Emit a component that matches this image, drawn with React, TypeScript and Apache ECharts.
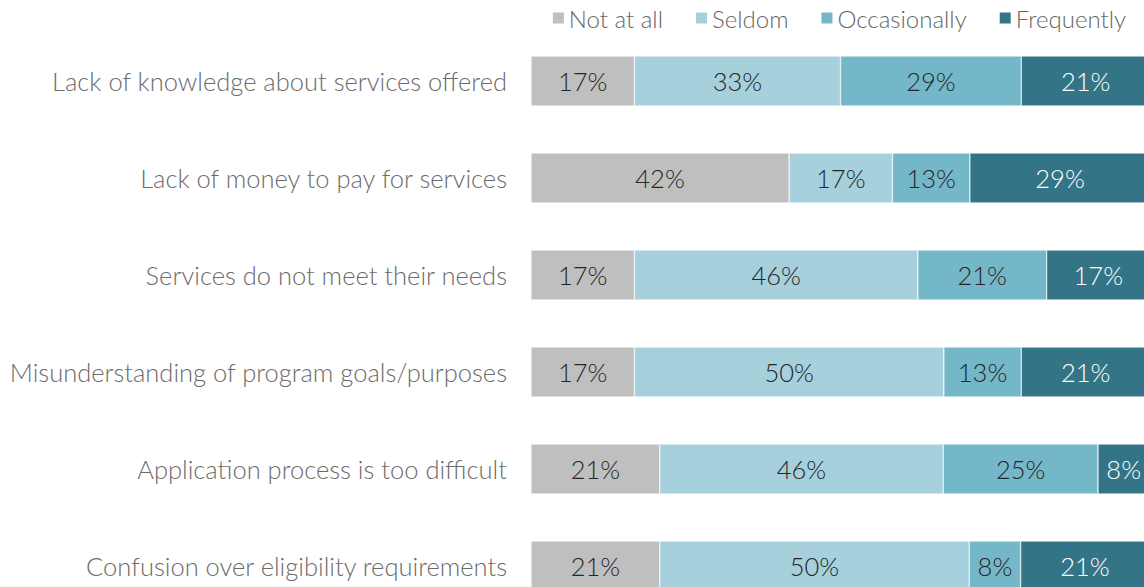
import React, { useEffect, useRef } from "react";
import * as echarts from "echarts";

const categories = [
  "Lack of knowledge about services offered",
  "Lack of money to pay for services",
  "Services do not meet their needs",
  "Misunderstanding of program goals/purposes",
  "Application process is too difficult",
  "Confusion over eligibility requirements",
];

const seriesNames = ["Not at all", "Seldom", "Occasionally", "Frequently"];

const notAtAll = [16.7, 41.7, 16.7, 16.7, 20.8, 20.8];
const seldom = [33.3, 16.7, 45.8, 50.0, 45.8, 50.0];
const occasionally = [29.2, 12.5, 20.8, 12.5, 25.0, 8.3];
const frequently = [20.8, 29.2, 16.7, 20.8, 8.3, 20.8];

const colors = ["#BFBFBF", "#A5D0DC", "#74B7C8", "#337586"];
const labelColors = ["#262626", "#262626", "#262626", "#FFFFFF"];

const FONT = "Lato";
const CHART_W = 1170;
const CHART_H = 620;

export default function App() {
  const ref = useRef<HTMLDivElement>(null);
  useEffect(() => {
    document.body.style.margin = "0";
    document.body.style.overflow = "hidden";
    if (!ref.current) return;
    const chart = echarts.init(ref.current, undefined, { renderer: "svg" });
    const values = [notAtAll, seldom, occasionally, frequently];
    chart.setOption({
      animation: false,
      legend: {
        data: seriesNames,
        right: 13 + (CHART_W - 1144),
        top: 1,
        itemWidth: 13,
        itemHeight: 13,
        itemGap: 31,
        icon: "rect",
        textStyle: {
          fontFamily: FONT,
          fontWeight: 300,
          fontSize: 24,
          color: "#666666",
          padding: [0, 0, 0, -1],
        },
      },
      grid: {
        left: 531,
        top: 32.5,
        width: 619,
        height: 582,
        containLabel: false,
        outerBoundsMode: "none",
      },
      xAxis: {
        type: "value",
        min: 0,
        max: 100,
        show: false,
      },
      yAxis: {
        type: "category",
        data: categories,
        inverse: true,
        axisLine: { show: false },
        axisTick: { show: false },
        splitLine: { show: false },
        axisLabel: {
          margin: 24,
          fontFamily: FONT,
          fontWeight: 300,
          fontSize: 25.5,
          color: "#6b6b6b",
        },
      },
      series: seriesNames.map((name, i) => ({
        name,
        type: "bar",
        stack: "total",
        barWidth: 50,
        data: values[i],
        itemStyle: { color: colors[i], borderColor: "#ffffff", borderWidth: 0.5 },
        label: {
          show: true,
          position: "inside",
          formatter: (p: any) => Math.round(p.value) + "%",
          fontFamily: FONT,
          fontWeight: 300,
          fontSize: 25.5,
          color: labelColors[i],
        },
      })),
    });
    return () => chart.dispose();
  }, []);
  return (
    <div style={{ width: 1144, height: 587, overflow: "hidden", position: "relative" }}>
      <div ref={ref} style={{ width: CHART_W, height: CHART_H }} />
    </div>
  );
}
